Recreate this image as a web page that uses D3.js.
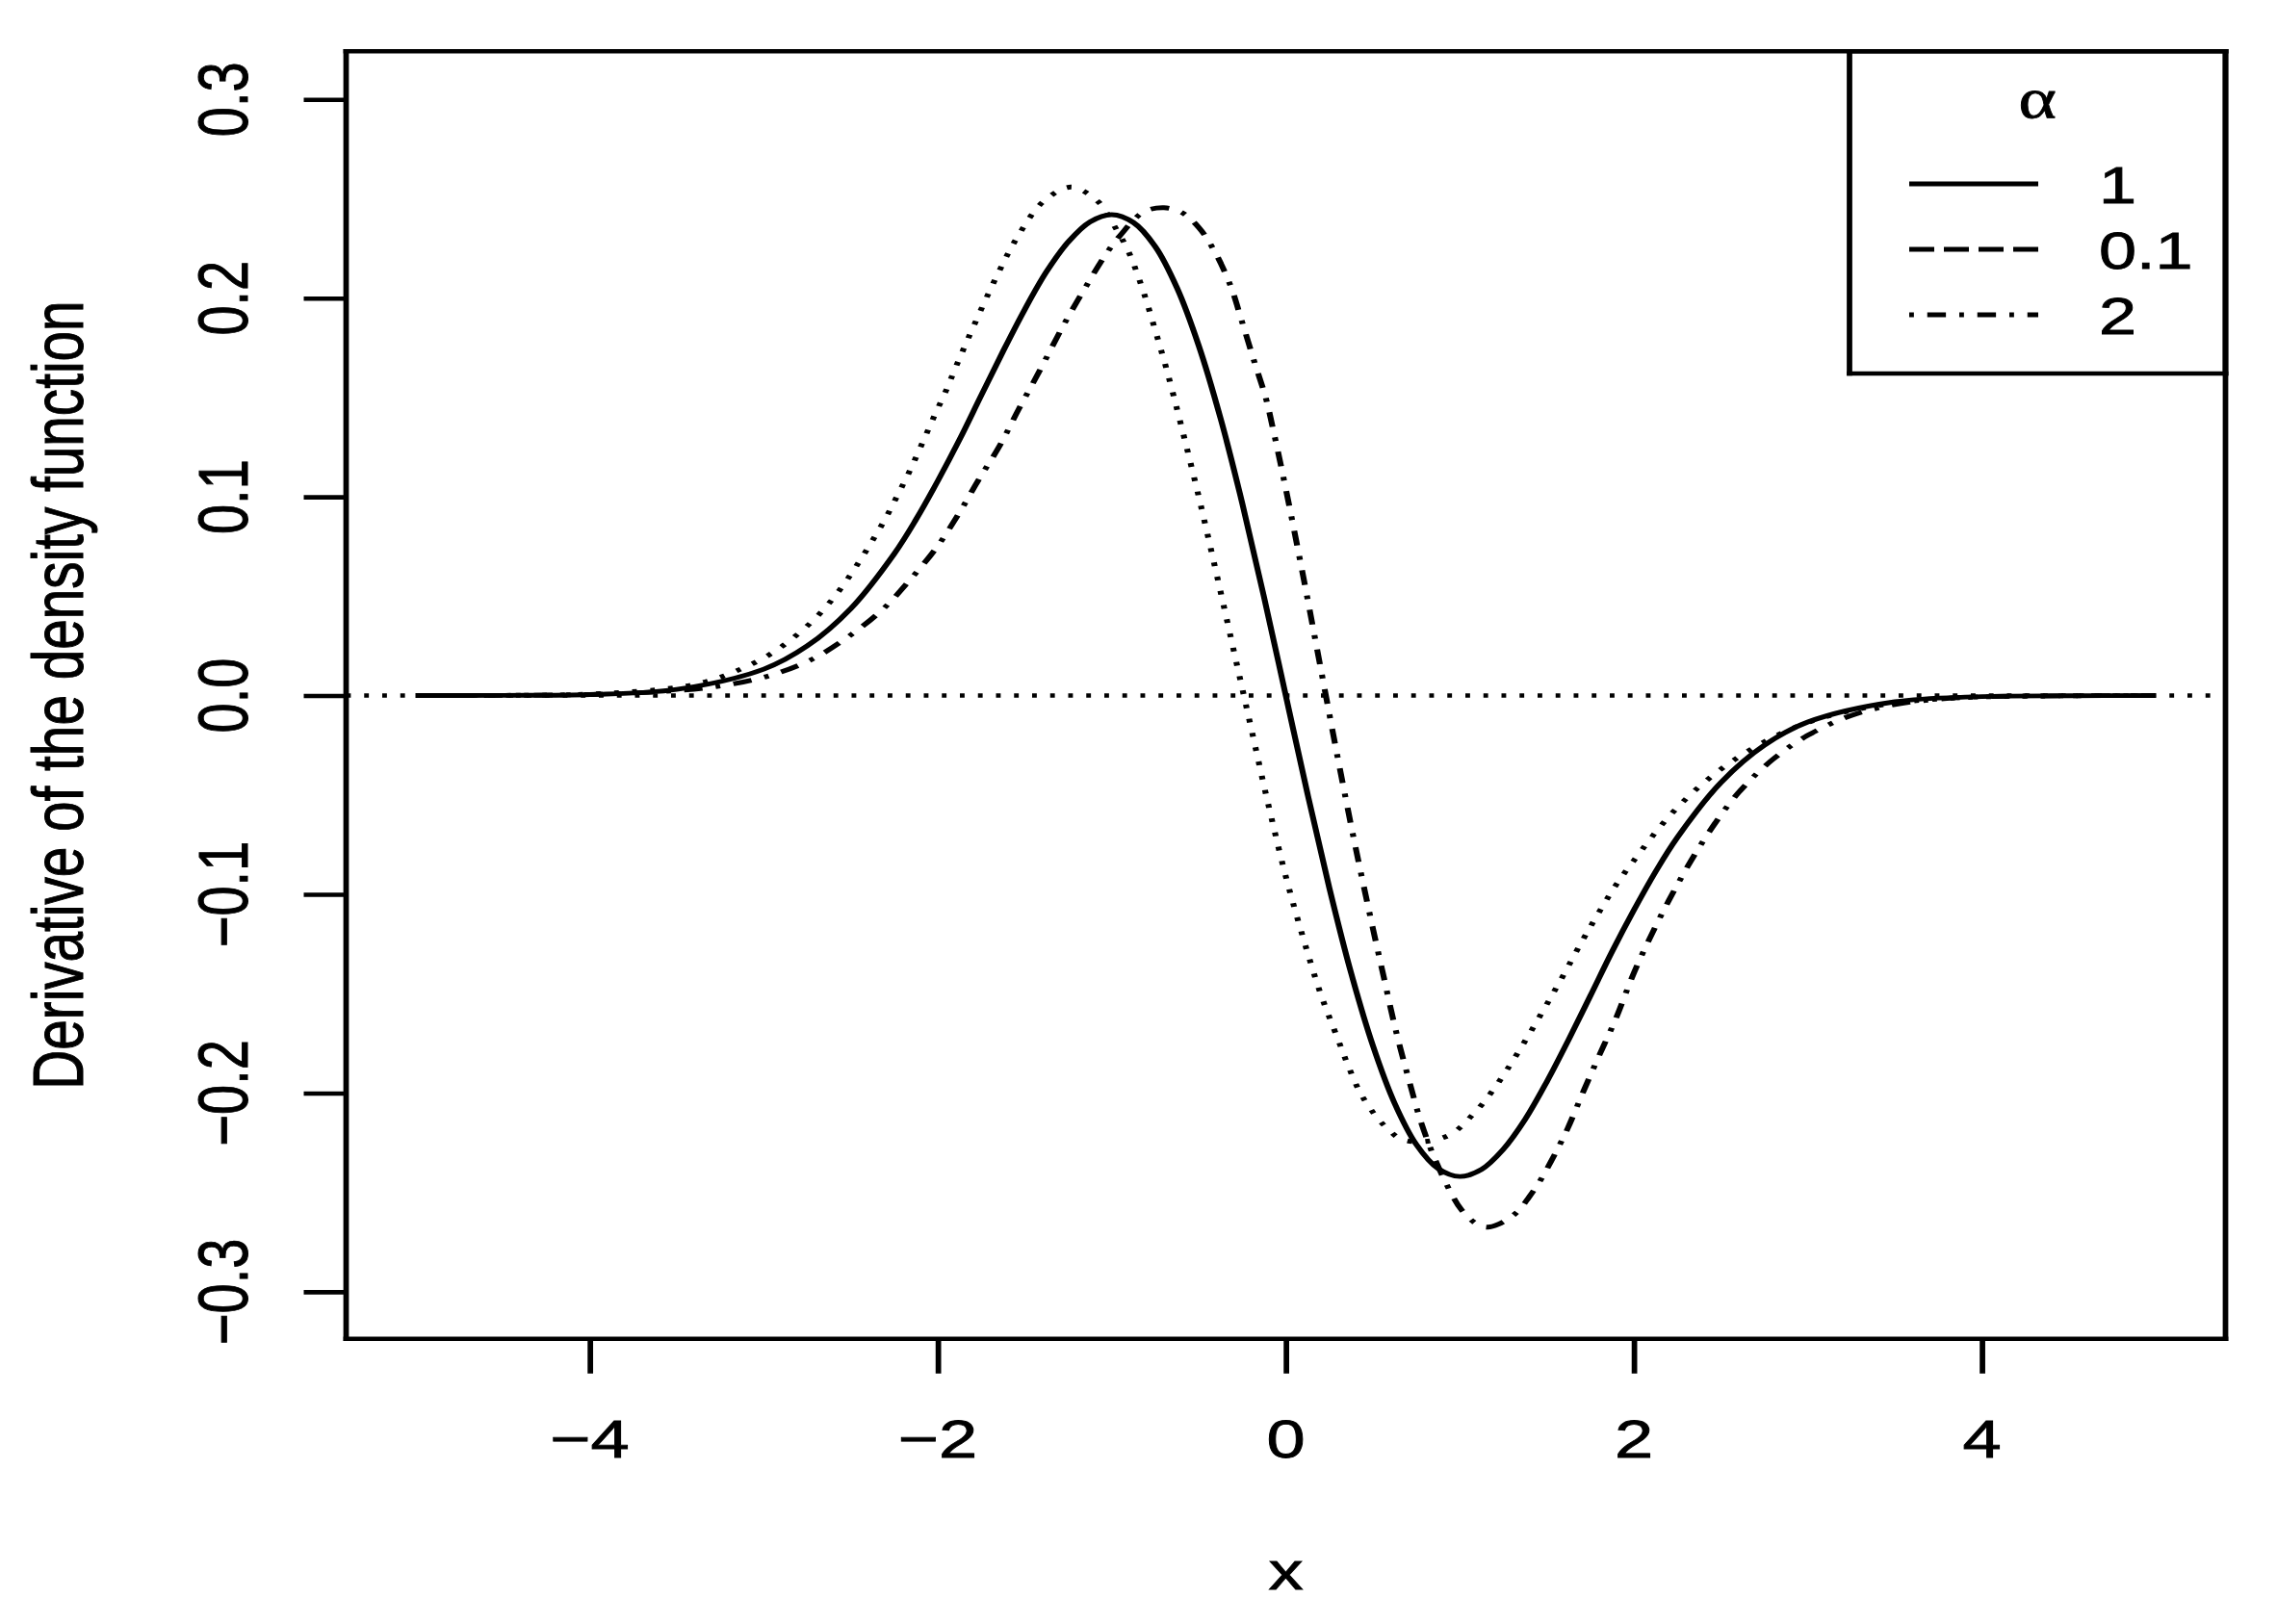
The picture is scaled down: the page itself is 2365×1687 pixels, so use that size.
<!DOCTYPE html>
<html>
<head>
<meta charset="utf-8">
<script src="https://cdn.jsdelivr.net/npm/d3@7"></script>
<style>
  html, body { margin: 0; padding: 0; background: #fff; }
  svg { display: block; }
</style>
</head>
<body>
<div id="chart"></div>
<script>
// ---------------- data ----------------
const xTicks = [-4, -2, 0, 2, 4];
const xTickLabels = ["\u22124", "\u22122", "0", "2", "4"];
const yTicks = [-0.3, -0.2, -0.1, 0.0, 0.1, 0.2, 0.3];
const yTickLabels = ["\u22120.3", "\u22120.2", "\u22120.1", "0.0", "0.1", "0.2", "0.3"];

// alpha = 1 (solid)
const solidX = [-5, -4.5, -4, -3.5, -3, -2.75, -2.5, -2.25, -2.125, -2, -1.875, -1.75, -1.625, -1.5, -1.375, -1.25, -1.125, -1,
                -0.875, -0.75, -0.625, -0.5, -0.375, -0.25, -0.125, 0, 0.125, 0.25, 0.375, 0.5, 0.625, 0.75, 0.875, 1,
                1.125, 1.25, 1.375, 1.5, 1.625, 1.75, 1.875, 2, 2.125, 2.25, 2.5, 2.75, 3, 3.5, 4, 4.5, 5];
const solidY = [0, 0.0001, 0.0005, 0.0031, 0.0133, 0.025, 0.0438, 0.0714, 0.0886, 0.108, 0.1288, 0.1511, 0.1732, 0.1943, 0.2133, 0.2283, 0.2384, 0.242,
                0.2380, 0.2259, 0.2051, 0.176, 0.1395, 0.0967, 0.0495, 0, -0.0495, -0.0967, -0.1395, -0.176, -0.2051, -0.2259, -0.2380, -0.242,
                -0.2384, -0.2283, -0.2133, -0.1943, -0.1732, -0.1511, -0.1288, -0.108, -0.0886, -0.0714, -0.0438, -0.025, -0.0133, -0.0031, -0.0005, -0.0001, 0];

// drawn dotted curve
const dottedX = [-5, -4.5, -4, -3.507, -3.314, -3.133, -2.967, -2.82, -2.688, -2.577, -2.479, -2.388, -2.305, -2.23, -2.156,
                 -2.088, -2.023, -1.955, -1.894, -1.795, -1.658, -1.544, -1.393, -1.234, -1.079, -0.99, -0.907, -0.821,
                 -0.751, -0.683, -0.603, -0.5, -0.4, -0.3, -0.2, -0.1, 0, 0.1, 0.2, 0.3, 0.365, 0.433, 0.529, 0.586,
                 0.66, 0.78, 0.927, 1.005, 1.066, 1.125, 1.226, 1.318, 1.405, 1.488, 1.571, 1.7, 1.8, 1.9, 2.0, 2.2,
                 2.4, 2.6, 2.8, 3.0, 3.25, 3.5, 3.75, 4, 4.5, 5];
const dottedY = [0, 0.0001, 0.0008, 0.004, 0.0074, 0.0133, 0.0206, 0.0298, 0.0403, 0.0516, 0.0637, 0.0762, 0.0884, 0.101, 0.114,
                 0.1272, 0.1401, 0.153, 0.1658, 0.1857, 0.2116, 0.2305, 0.2486, 0.2559, 0.2486, 0.237, 0.224, 0.204,
                 0.184, 0.1635, 0.1365, 0.100, 0.062, 0.023, -0.016, -0.055, -0.091, -0.122, -0.150, -0.173, -0.1877, -0.2007, -0.2128, -0.218,
                 -0.2231, -0.2245, -0.2217, -0.2171, -0.2116, -0.206, -0.1942, -0.1819, -0.1695, -0.1571, -0.1445, -0.124, -0.109, -0.095, -0.083, -0.061,
                 -0.044, -0.031, -0.021, -0.0135, -0.0075, -0.0038, -0.0017, -0.0007, -0.0001, 0];

// alpha = 2 (dot-dash)
const dotdashX = [-5, -4.5, -4, -3.5, -3.222, -2.964, -2.724, -2.503, -2.309, -2.152, -2.005, -1.876, -1.765, -1.645, -1.535,
                  -1.424, -1.271, -1.156, -1.037, -0.954, -0.815, -0.7, -0.6, -0.5, -0.409, -0.318, -0.253, -0.179,
                  -0.115, -0.072, 0, 0.1, 0.2, 0.3, 0.4, 0.5, 0.559, 0.632, 0.715, 0.776, 0.854, 0.95, 1.01, 1.099, 1.16,
                  1.223, 1.328, 1.398, 1.464, 1.521, 1.573, 1.621, 1.711, 1.8, 1.892, 2.016, 2.2, 2.4, 2.6, 2.8, 3.0,
                  3.25, 3.5, 3.75, 4, 4.5, 5];
const dotdashY = [0, 0.0001, 0.0006, 0.0025, 0.0052, 0.0101, 0.0182, 0.0303, 0.044, 0.059, 0.0747, 0.092, 0.1086, 0.1256, 0.1441,
                  0.1619, 0.1874, 0.2047, 0.2217, 0.2313, 0.2435, 0.2455, 0.2432, 0.2355, 0.2235, 0.2063, 0.1885, 0.1675,
                  0.1498, 0.1336, 0.104, 0.060, 0.014, -0.032, -0.076, -0.117, -0.1401, -0.1684, -0.1958, -0.2144, -0.2326, -0.2504, -0.2588, -0.266, -0.2675,
                  -0.266, -0.260, -0.2523, -0.2438, -0.2349, -0.2262, -0.2176, -0.199, -0.1813, -0.1635, -0.1364, -0.1033, -0.073, -0.049, -0.032, -0.020,
                  -0.010, -0.0045, -0.0018, -0.0006, -0.0001, 0];

const legendTitle = "\u03b1";
const legendLabels = ["1", "0.1", "2"];
const legendStyles = ["solid", "dashed", "dotdash"];

// ---------------- layout ----------------
const W = 2365, H = 1687;
const K = 1.25;      // horizontal stretch of graphics
const TK = 1.29;     // horizontal stretch of text
const L = 359.5, R = 2311.5, T = 53.3, B = 1390.8;
const FONT = "'Liberation Sans', Arial, Helvetica, sans-serif";
const FS = 56;
const LW = 4.6;      // line width of axes / box
const CW = 4.9;      // line width of curves

const svg = d3.select("#chart").append("svg")
  .attr("width", W).attr("height", H)
  .attr("viewBox", `0 0 ${W} ${H}`);
svg.append("rect").attr("width", W).attr("height", H).attr("fill", "#fff");

const g = svg.append("g").attr("transform", `scale(${K},1)`);

const x = d3.scaleLinear().domain([-5.4, 5.4]).range([L / K, R / K]);
const y = d3.scaleLinear().domain([-0.3237, 0.3242]).range([B, T]);

const dashes = {
  solid: null,
  dotted: "3.9 11.1",
  dotdash: "3.9 11.1 15.5 11.1",
  dashed: "20.8 8"
};

// zero reference line
g.append("line")
  .attr("x1", x(-5.4)).attr("x2", x(5.4))
  .attr("y1", y(0)).attr("y2", y(0))
  .attr("stroke", "#000").attr("stroke-width", LW)
  .attr("stroke-dasharray", dashes.dotted);

const line = d3.line()
  .x(d => x(d[0])).y(d => y(d[1]))
  .curve(d3.curveCatmullRom.alpha(0.5));

const series = [
  { xs: dottedX, ys: dottedY, style: "dotted" },
  { xs: dotdashX, ys: dotdashY, style: "dotdash" },
  { xs: solidX, ys: solidY, style: "solid" }
];
series.forEach(s => {
  g.append("path")
    .datum(s.xs.map((v, i) => [v, s.ys[i]]))
    .attr("d", line)
    .attr("fill", "none")
    .attr("stroke", "#000")
    .attr("stroke-width", CW)
    .attr("stroke-linejoin", "round")
    .attr("stroke-dasharray", dashes[s.style]);
});

// axes ticks (d3 axes, labels drawn separately)
const xAxis = g.append("g").attr("transform", `translate(0,${B})`)
  .call(d3.axisBottom(x).tickValues(xTicks).tickSize(36).tickSizeOuter(0).tickFormat(""));
const yAxis = g.append("g").attr("transform", `translate(${L / K},0)`)
  .call(d3.axisLeft(y).tickValues(yTicks).tickSize(44 / K).tickSizeOuter(0).tickFormat(""));
[xAxis, yAxis].forEach(a => {
  a.select(".domain").remove();
  a.selectAll(".tick line").attr("stroke", "#000").attr("stroke-width", LW);
});

// plot box
const box = g.append("g").attr("stroke", "#000").attr("stroke-width", LW).attr("stroke-linecap", "square");
box.append("line").attr("x1", L / K).attr("x2", R / K).attr("y1", T).attr("y2", T);
box.append("line").attr("x1", L / K).attr("x2", R / K).attr("y1", B).attr("y2", B);
box.append("line").attr("x1", L / K).attr("x2", L / K).attr("y1", T).attr("y2", B);
box.append("line").attr("x1", R / K).attr("x2", R / K).attr("y1", T).attr("y2", B);

// text helper
function txt(str, px, py, opts = {}) {
  const rot = opts.rotate ? " rotate(-90)" : "";
  const k = opts.k || TK;
  return svg.append("text")
    .attr("transform", `translate(${px},${py}) scale(${k},1)${rot}`)
    .attr("text-anchor", opts.anchor || "middle")
    .attr("font-family", opts.family || FONT)
    .attr("font-size", opts.size || FS)
    .attr("fill", "#000")
    .attr("stroke", "#000")
    .attr("stroke-width", 0.8)
    .text(str);
}

// tick labels
xTicks.forEach((v, i) => txt(xTickLabels[i], x(v) * K, 1514));
yTicks.forEach((v, i) => txt(yTickLabels[i], 257, y(v), { rotate: true }));

// axis titles
txt("x", (L + R) / 2, 1651);
txt("Derivative of the density function", 86, (T + B) / 2, { rotate: true, size: 56.7, k: 1.3 });

// legend
const lgL = 1921, lgR = R, lgT = T, lgB = 388;
const lg = g.append("g").attr("stroke", "#000").attr("stroke-width", LW).attr("stroke-linecap", "square");
lg.append("line").attr("x1", lgL / K).attr("x2", lgR / K).attr("y1", lgT).attr("y2", lgT);
lg.append("line").attr("x1", lgL / K).attr("x2", lgR / K).attr("y1", lgB).attr("y2", lgB);
lg.append("line").attr("x1", lgL / K).attr("x2", lgL / K).attr("y1", lgT).attr("y2", lgB);
lg.append("line").attr("x1", lgR / K).attr("x2", lgR / K).attr("y1", lgT).attr("y2", lgB);

txt(legendTitle, (lgL + lgR) / 2, 122, { family: "'Liberation Serif', 'DejaVu Serif', serif", size: 60, k: 1.25 });

const rowY = [191, 259, 327];
legendLabels.forEach((lab, i) => {
  g.append("line")
    .attr("x1", 1983 / K).attr("x2", 2117 / K)
    .attr("y1", rowY[i]).attr("y2", rowY[i])
    .attr("stroke", "#000").attr("stroke-width", CW)
    .attr("stroke-dasharray", dashes[legendStyles[i]]);
  txt(lab, 2180, rowY[i] + 19.5, { anchor: "start", size: 54, k: 1.3 });
});
</script>
</body>
</html>
